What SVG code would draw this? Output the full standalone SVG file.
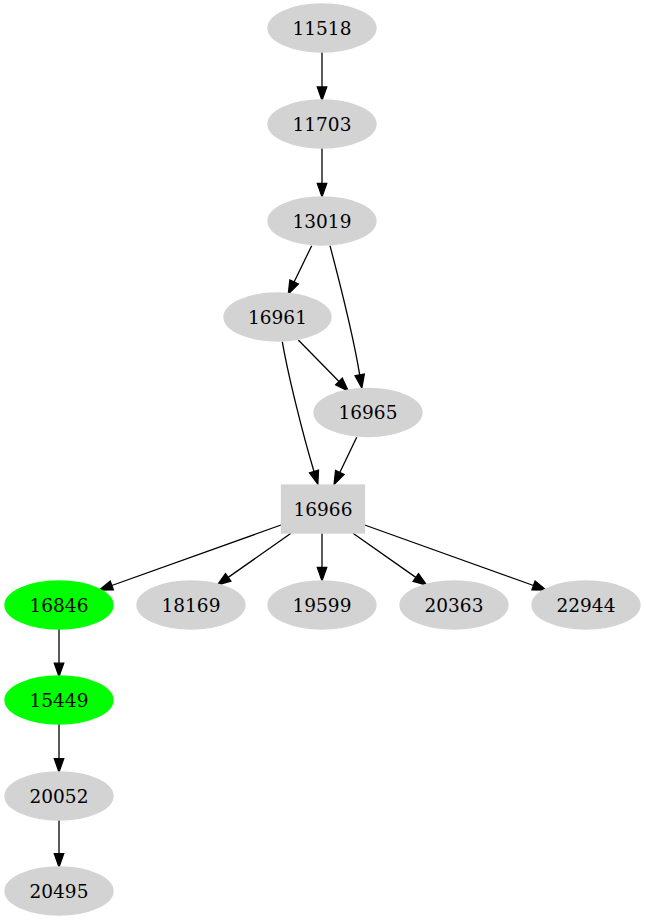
<svg xmlns="http://www.w3.org/2000/svg" width="646" height="923" viewBox="0 0 646 923">
<style>
.n{fill:#d3d3d3;stroke:#d3d3d3;stroke-width:1.3}
.g{fill:#00ff00;stroke:#00ff00;stroke-width:1.3}
text{font-family:"DejaVu Serif","Liberation Serif",serif;font-size:18.5px;text-anchor:middle;fill:#000}
.e{fill:none;stroke:#000;stroke-width:1.3;marker-end:url(#ah)}
</style>
<defs>
<marker id="ah" markerUnits="userSpaceOnUse" markerWidth="14" markerHeight="10" refX="0" refY="5" orient="auto" overflow="visible">
<path d="M0,0.3 L13.3,5 L0,9.7 Z" fill="#000" stroke="#000" stroke-width="1.3"/>
</marker>
</defs>
<rect width="646" height="923" fill="#fff"/>
<g id="edges">
<path class="e" d="M322,52 L322,87"/>
<path class="e" d="M322,148 L322,183.5"/>
<path class="e" d="M311.7,245.7 L294.1,282"/>
<path class="e" d="M330,245.7 C338,276 354,340 359.7,374.9"/>
<path class="e" d="M298.3,340 L339,381.5"/>
<path class="e" d="M282.3,341.7 C288,375 303,435 314,471.5"/>
<path class="e" d="M356.7,437.3 L339.8,472.5"/>
<path class="e" d="M281,525 L111.8,585.5"/>
<path class="e" d="M291,533.3 L228.2,577.4"/>
<path class="e" d="M322,533.3 L322,567.5"/>
<path class="e" d="M353,533.3 L415.8,577.4"/>
<path class="e" d="M364.7,525 L533.5,585.5"/>
<path class="e" d="M59,629 L59,663.2"/>
<path class="e" d="M59,724 L59,758.7"/>
<path class="e" d="M59,820 L59,853.7"/>
</g>
<g id="n11518"><ellipse class="n" cx="322" cy="28" rx="54" ry="24"/><text x="322" y="34.5">11518</text></g>
<g id="n11703"><ellipse class="n" cx="322" cy="124" rx="54" ry="24"/><text x="322" y="130.5">11703</text></g>
<g id="n13019"><ellipse class="n" cx="322" cy="221" rx="54" ry="24"/><text x="322" y="227.5">13019</text></g>
<g id="n16961"><ellipse class="n" cx="277.5" cy="317" rx="53.5" ry="24"/><text x="277.5" y="323.5">16961</text></g>
<g id="n16965"><ellipse class="n" cx="368" cy="412.5" rx="54" ry="24"/><text x="368" y="419">16965</text></g>
<g id="n16966"><rect class="n" x="281.5" y="485" width="83" height="48"/><text x="323" y="515.5">16966</text></g>
<g id="n16846"><ellipse class="g" cx="59" cy="605" rx="54" ry="24"/><text x="59" y="611.5">16846</text></g>
<g id="n18169"><ellipse class="n" cx="191" cy="605" rx="54" ry="24"/><text x="191" y="611.5">18169</text></g>
<g id="n19599"><ellipse class="n" cx="322" cy="605" rx="54" ry="24"/><text x="322" y="611.5">19599</text></g>
<g id="n20363"><ellipse class="n" cx="454" cy="605" rx="54" ry="24"/><text x="454" y="611.5">20363</text></g>
<g id="n22944"><ellipse class="n" cx="586" cy="605" rx="54" ry="24"/><text x="586" y="611.5">22944</text></g>
<g id="n15449"><ellipse class="g" cx="59" cy="700" rx="54" ry="24"/><text x="59" y="706.5">15449</text></g>
<g id="n20052"><ellipse class="n" cx="59" cy="796" rx="54" ry="24"/><text x="59" y="802.5">20052</text></g>
<g id="n20495"><ellipse class="n" cx="59" cy="891" rx="54" ry="24"/><text x="59" y="897.5">20495</text></g>
</svg>
